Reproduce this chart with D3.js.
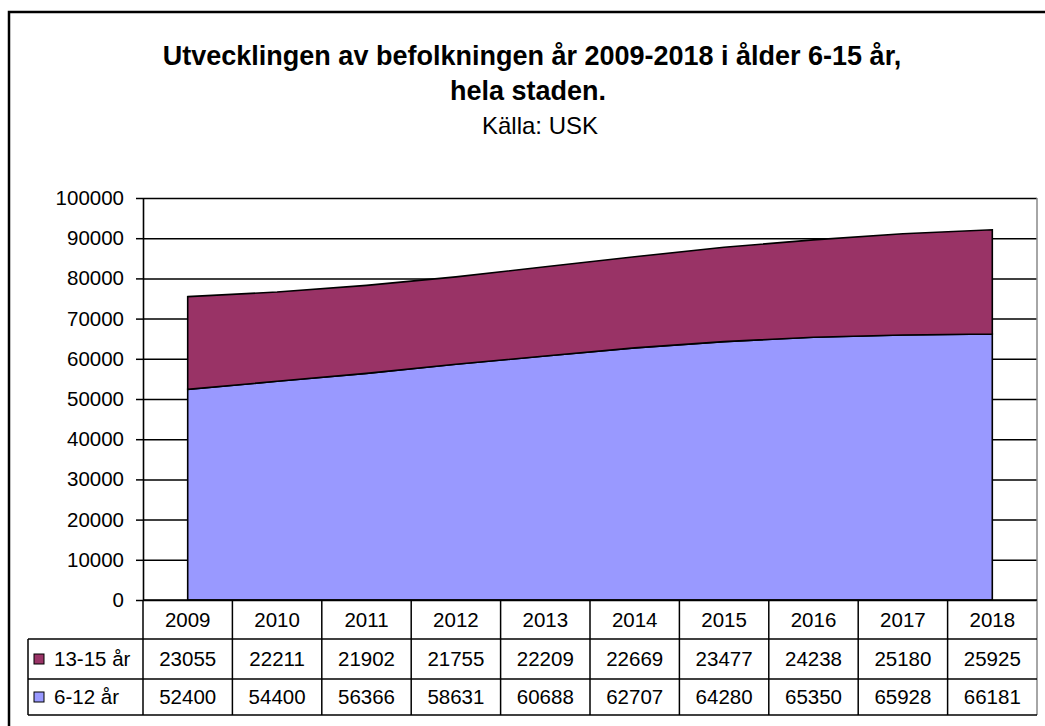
<!DOCTYPE html>
<html>
<head>
<meta charset="utf-8">
<script src="https://cdn.jsdelivr.net/npm/d3@7"></script>
<style>
    body { margin: 0; background: #fff; }
    svg { display: block; font-family: "Liberation Sans", Arial, sans-serif; }
</style>
</head>
<body>
<main></main>
<script>
// Dados do gráfico
const anos = ['2009', '2010', '2011', '2012', '2013', '2014', '2015', '2016', '2017', '2018'];
const idade13a15 = [23055, 22211, 21902, 21755, 22209, 22669, 23477, 24238, 25180, 25925];
const idade6a12 = [52400, 54400, 56366, 58631, 60688, 62707, 64280, 65350, 65928, 66181];
const series = ['13-15 år', '6-12 år'];
const cores = ['#993366', '#9999ff'];
const yTicks = [0, 10000, 20000, 30000, 40000, 50000, 60000, 70000, 80000, 90000, 100000];

function createChart() {
    const svgWidth = 1045, svgHeight = 726;
    const plot = { left: 143, right: 1037, top: 198, bottom: 600 };
    const rows = [600, 639, 679, 715];
    const legendLeft = 28;

    const svg = d3.select('main').append('svg')
        .attr('width', svgWidth)
        .attr('height', svgHeight);

    // Moldura externa
    svg.append('rect')
        .attr('x', 9).attr('y', 12)
        .attr('width', 1060).attr('height', 740)
        .attr('fill', 'none')
        .attr('stroke', '#000')
        .attr('stroke-width', 2.5);

    // Títulos
    svg.append('text')
        .attr('x', 532).attr('y', 65)
        .attr('text-anchor', 'middle')
        .attr('font-size', 27).attr('font-weight', 'bold')
        .text('Utvecklingen av befolkningen år 2009-2018 i ålder 6-15 år,');
    svg.append('text')
        .attr('x', 528).attr('y', 100)
        .attr('text-anchor', 'middle')
        .attr('font-size', 27).attr('font-weight', 'bold')
        .text('hela staden.');
    svg.append('text')
        .attr('x', 540).attr('y', 134)
        .attr('text-anchor', 'middle')
        .attr('font-size', 24)
        .text('Källa: USK');

    // Escalas
    const xScale = d3.scaleBand()
        .domain(anos)
        .range([plot.left, plot.right]);

    const yScale = d3.scaleLinear()
        .domain([0, 100000])
        .range([plot.bottom, plot.top]);

    const xc = d => xScale(d) + xScale.bandwidth() / 2;

    // Linhas de grade
    svg.append('g')
        .attr('transform', `translate(${plot.left},0)`)
        .call(d3.axisRight(yScale).tickValues(yTicks).tickSize(plot.right - plot.left).tickFormat(''))
        .call(g => g.select('.domain').remove())
        .call(g => g.selectAll('line').attr('stroke', '#000').attr('stroke-width', 1.5));

    // Áreas empilhadas
    const dados = anos.map((a, i) => ({ ano: a, '6-12 år': idade6a12[i], '13-15 år': idade13a15[i] }));
    const stack = d3.stack().keys(['6-12 år', '13-15 år'])(dados);
    const area = d3.area()
        .x(d => xc(d.data.ano))
        .y0(d => yScale(d[0]))
        .y1(d => yScale(d[1]));
    const cor = { '6-12 år': '#9999ff', '13-15 år': '#993366' };

    svg.selectAll('.area')
        .data(stack)
        .enter()
        .append('path')
        .attr('d', area)
        .attr('fill', d => cor[d.key])
        .attr('stroke', '#000')
        .attr('stroke-width', 1.6)
        .attr('stroke-linejoin', 'miter');

    // Eixo Y
    svg.append('g')
        .attr('transform', `translate(${plot.left},0)`)
        .call(d3.axisLeft(yScale).tickValues(yTicks).tickSize(7).tickSizeOuter(0).tickPadding(12).tickFormat(d3.format('d')))
        .call(g => g.select('.domain').attr('stroke', '#000').attr('stroke-width', 1.6))
        .call(g => g.selectAll('line').attr('stroke', '#000').attr('stroke-width', 1.5))
        .call(g => g.selectAll('text').attr('font-size', 20.5).attr('fill', '#000')
            .attr('font-family', '"Liberation Sans", Arial, sans-serif'));

    // Borda direita da área de plotagem
    svg.append('line')
        .attr('x1', plot.right).attr('x2', plot.right)
        .attr('y1', plot.top).attr('y2', rows[3])
        .attr('stroke', '#888').attr('stroke-width', 1.5);

    // Tabela de dados
    const t = svg.append('g').attr('stroke', '#000').attr('stroke-width', 1.5);
    t.append('line').attr('x1', plot.left).attr('x2', plot.right).attr('y1', rows[0]).attr('y2', rows[0]);
    [1, 2, 3].forEach(r => {
        t.append('line').attr('x1', legendLeft).attr('x2', plot.right).attr('y1', rows[r]).attr('y2', rows[r]);
    });
    t.append('line').attr('x1', legendLeft).attr('x2', legendLeft).attr('y1', rows[1]).attr('y2', rows[3]);
    t.append('line').attr('x1', plot.left).attr('x2', plot.left).attr('y1', rows[0]).attr('y2', rows[3]);
    t.selectAll('.div')
        .data(anos.slice(1))
        .enter()
        .append('line')
        .attr('x1', d => xScale(d)).attr('x2', d => xScale(d))
        .attr('y1', rows[0]).attr('y2', rows[3]);

    // Anos
    svg.selectAll('.ano')
        .data(anos)
        .enter()
        .append('text')
        .attr('x', d => xc(d))
        .attr('y', (rows[0] + rows[1]) / 2)
        .attr('dy', '0.36em')
        .attr('text-anchor', 'middle')
        .attr('font-size', 20.5)
        .text(d => d);

    // Valores
    const valores = [idade13a15, idade6a12];
    valores.forEach((vals, r) => {
        svg.selectAll('.v' + r)
            .data(vals)
            .enter()
            .append('text')
            .attr('x', (d, i) => xc(anos[i]))
            .attr('y', (rows[r + 1] + rows[r + 2]) / 2)
            .attr('dy', '0.36em')
            .attr('text-anchor', 'middle')
            .attr('font-size', 20.5)
            .text(d => d);

        // Legenda
        const cy = (rows[r + 1] + rows[r + 2]) / 2;
        svg.append('rect')
            .attr('x', 34).attr('y', cy - 5)
            .attr('width', 10).attr('height', 10)
            .attr('fill', cores[r])
            .attr('stroke', '#000').attr('stroke-width', 1);
        svg.append('text')
            .attr('x', 54).attr('y', cy)
            .attr('dy', '0.36em')
            .attr('font-size', 20.5)
            .text(series[r]);
    });
}

createChart();
</script>
</body>
</html>
